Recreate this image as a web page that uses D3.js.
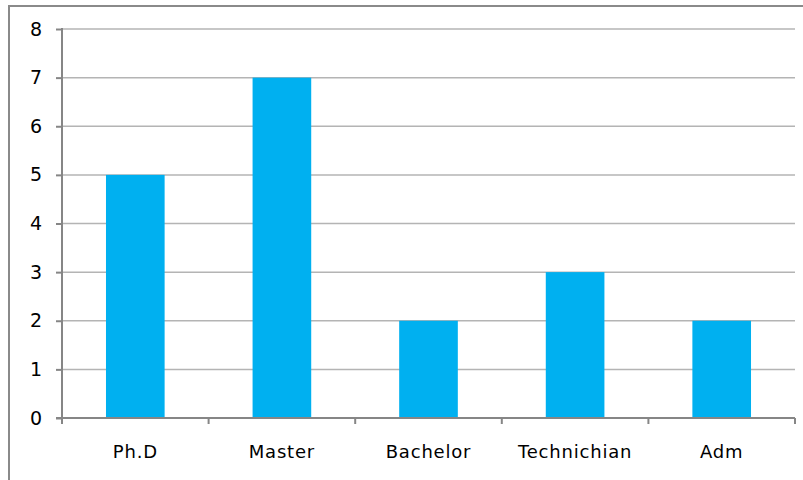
<!DOCTYPE html>
<html>
<head>
<meta charset="utf-8">
<script src="https://cdn.jsdelivr.net/npm/d3@7"></script>
<style>
  body { margin: 0; background: #fff; }
  text { font-family: "DejaVu Sans", sans-serif; fill: #000; }
</style>
</head>
<body>
<svg id="chart" width="803" height="480"></svg>
<script>
// data
var categories = ['Ph.D', 'Master', 'Bachelor', 'Technichian', 'Adm'];
var counts = [5, 7, 2, 3, 2];
var yTicks = [0, 1, 2, 3, 4, 5, 6, 7, 8];

var svg = d3.select('#chart');
var margin = { left: 62, top: 29, right: 8, bottom: 62 };
var width = 803, height = 480;

// outer chart frame (right / bottom edges run off the picture)
svg.append('rect')
    .attr('x', 9).attr('y', 6)
    .attr('width', 820).attr('height', 500)
    .attr('fill', 'none')
    .attr('stroke', '#8a8a8a')
    .attr('stroke-width', 2);

var x = d3.scaleBand()
    .domain(categories)
    .range([margin.left, width - margin.right]);

var y = d3.scaleLinear()
    .domain([0, 8])
    .range([height - margin.bottom, margin.top]);

// gridlines
svg.append('g').selectAll('line')
    .data(yTicks.filter(function (d) { return d > 0; }))
    .enter().append('line')
    .attr('x1', margin.left).attr('x2', width - margin.right)
    .attr('y1', function (d) { return y(d); })
    .attr('y2', function (d) { return y(d); })
    .attr('stroke', '#b4b4b4')
    .attr('stroke-width', 1.5);

// bars
var barW = x.bandwidth() * 0.4;
svg.append('g').selectAll('rect')
    .data(counts)
    .enter().append('rect')
    .attr('x', function (d, i) { return x(categories[i]) + (x.bandwidth() - barW) / 2; })
    .attr('y', function (d) { return y(d); })
    .attr('width', barW)
    .attr('height', function (d) { return y(0) - y(d); })
    .attr('fill', '#00b0f0');

// y axis
var yAxis = svg.append('g')
    .attr('transform', 'translate(' + margin.left + ',0)')
    .call(d3.axisLeft(y).tickValues(yTicks).tickSize(6).tickPadding(14));
yAxis.select('.domain').attr('stroke', '#868686').attr('stroke-width', 2)
    .attr('d', 'M0,' + (y(8) - 1) + 'V' + (y(0) + 1));
yAxis.selectAll('.tick line').attr('stroke', '#868686').attr('stroke-width', 2);
yAxis.selectAll('.tick text').style('font-size', '19px');

// x axis: ticks at category boundaries
var bounds = categories.map(function (c) { return x(c); }).concat([width - margin.right]);
var xg = svg.append('g');
xg.append('line')
    .attr('x1', margin.left - 6).attr('x2', width - margin.right)
    .attr('y1', y(0)).attr('y2', y(0))
    .attr('stroke', '#868686').attr('stroke-width', 2);
xg.selectAll('line.tk')
    .data(bounds)
    .enter().append('line')
    .attr('class', 'tk')
    .attr('x1', function (d) { return d; }).attr('x2', function (d) { return d; })
    .attr('y1', y(0)).attr('y2', y(0) + 6)
    .attr('stroke', '#868686').attr('stroke-width', 2);
xg.selectAll('text')
    .data(categories)
    .enter().append('text')
    .attr('x', function (d) { return x(d) + x.bandwidth() / 2; })
    .attr('y', y(0) + 40)
    .attr('text-anchor', 'middle')
    .style('font-size', '18px')
    .style('letter-spacing', '0.8px')
    .text(function (d) { return d; });
</script>
</body>
</html>
